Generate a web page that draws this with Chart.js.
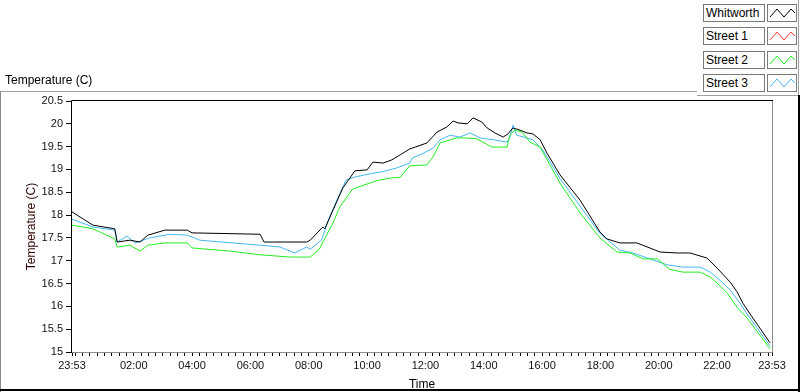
<!DOCTYPE html>
<html>
<head>
<meta charset="utf-8">
<script src="https://cdn.jsdelivr.net/npm/chart.js@4"></script>
<style>
body { margin:0; background:#fff; font-family:"Liberation Sans", Arial, sans-serif; }
#wrap { position:relative; width:800px; height:392px; overflow:hidden; }
#c { position:absolute; left:0; top:0; }
.ln { position:absolute; }
.cap { position:absolute; font-size:12px; color:#000; }
.lg-name { position:absolute; left:703px; width:58px; height:16px; border:1px solid #7a7a7a; background:#fff;
           font-size:12px; line-height:16px; padding-left:2px; box-sizing:content-box; }
.lg-sw { position:absolute; left:767px; width:28px; height:16px; border:1px solid #7a7a7a; background:#fff; }
</style>
</head>
<body>
<div id="wrap">
<canvas id="c" width="800" height="392"></canvas>
<div class="cap" style="left:5px;top:73px;">Temperature (C)</div>
<div class="ln" style="left:0;top:91px;width:697px;height:1px;background:#a0a0a0"></div>
<div class="ln" style="left:0;top:91px;width:1px;height:301px;background:#8a8a8a"></div>
<div class="ln" style="left:697px;top:95px;width:102px;height:1px;background:#a0a0a0"></div>
<div class="ln" style="left:798px;top:0;width:1px;height:95px;background:#a0a0a0"></div>
<div class="ln" style="left:798px;top:95px;width:2px;height:297px;background:#000"></div>
<div class="ln" style="left:0;top:389px;width:800px;height:2px;background:#000"></div>
<div id="legend"></div>
</div>
<script>
// minutes after 23:53 (0 .. 1440) and temperature in C
var whitworthTime = [0,43,88,93,119,140,156,191,237,247,387,395,483,490,516,520,537,557,582,607,619,640,658,675,695,706,730,751,771,784,794,813,825,843,854,870,887,897,907,922,936,948,963,977,1004,1045,1086,1100,1127,1162,1210,1245,1271,1306,1327,1354,1368,1380,1399,1436];
var whitworthTemp = [18.07,17.78,17.70,17.41,17.45,17.41,17.56,17.67,17.67,17.61,17.58,17.41,17.41,17.45,17.74,17.70,18.11,18.59,18.97,18.99,19.16,19.14,19.21,19.32,19.45,19.49,19.58,19.82,19.93,20.06,20.02,20.00,20.13,20.04,19.91,19.80,19.71,19.78,19.91,19.86,19.80,19.78,19.65,19.36,18.88,18.33,17.63,17.48,17.39,17.39,17.19,17.17,17.17,17.06,16.84,16.53,16.32,16.07,15.77,15.20];

var street1Time = [];
var street1Temp = [];

var street2Time = [0,43,88,93,119,140,156,191,237,247,326,387,449,483,490,508,537,551,577,601,626,654,675,695,730,743,757,778,792,813,833,864,895,901,911,926,942,963,983,1004,1045,1086,1121,1148,1175,1204,1230,1257,1292,1313,1327,1348,1368,1389,1436];
var street2Temp = [17.78,17.70,17.48,17.30,17.34,17.21,17.34,17.39,17.39,17.28,17.21,17.13,17.08,17.08,17.08,17.24,17.83,18.18,18.57,18.66,18.75,18.81,18.83,19.08,19.10,19.28,19.58,19.65,19.69,19.69,19.67,19.49,19.49,19.76,19.86,19.82,19.60,19.49,19.10,18.70,18.05,17.50,17.19,17.17,17.04,17.04,16.81,16.75,16.75,16.64,16.51,16.29,15.98,15.74,15.07];

var street3Time = [0,43,88,93,113,130,160,201,237,263,387,428,458,483,490,513,530,545,564,584,611,638,667,695,700,724,743,757,778,798,819,840,867,895,901,907,915,936,948,969,1004,1045,1086,1127,1154,1189,1224,1257,1292,1313,1333,1354,1374,1391,1436];
var street3Temp = [17.91,17.74,17.67,17.41,17.54,17.39,17.50,17.58,17.56,17.45,17.34,17.30,17.17,17.30,17.25,17.45,17.96,18.33,18.77,18.84,18.90,18.95,19.03,19.14,19.25,19.36,19.47,19.65,19.75,19.71,19.80,19.69,19.65,19.60,19.71,19.97,19.75,19.69,19.65,19.42,18.80,18.20,17.60,17.23,17.17,17.04,16.91,16.86,16.86,16.75,16.57,16.36,16.07,15.80,15.13];

var seriesNames = ['Whitworth','Street 1','Street 2','Street 3'];
var seriesColors = ['#000000','#ff3c3c','#20ee20','#44b8f4'];

// time axis: 23:53 at both ends, minor marks every 15 min, labels every 2 h
var xTicks = [0];
for (var t = 7; t < 1440; t += 15) xTicks.push(t);
xTicks.push(1440);

function xLabel(v) {
	if (v === 0 || v === 1440) return '23:53';
	var m = v - 7;
	if (m >= 120 && m % 120 === 0) {
		var h = (m / 60) % 24;
		return (h < 10 ? '0' : '') + h + ':00';
	}
	return '';
}

function pts(tx, ty) {
	var out = [];
	for (var i = 0; i < tx.length; i++) out.push({x: tx[i], y: ty[i]});
	return out;
}

var allTimes = [whitworthTime, street1Time, street2Time, street3Time];
var allTemps = [whitworthTemp, street1Temp, street2Temp, street3Temp];
var datasets = [];
for (var s = 0; s < seriesNames.length; s++) {
	datasets.push({
		label: seriesNames[s],
		data: pts(allTimes[s], allTemps[s]),
		borderColor: seriesColors[s],
		borderWidth: 1,
		pointRadius: 0,
		tension: 0,
		fill: false
	});
}

// legend panel
var lg = document.getElementById('legend');
for (var i = 0; i < seriesNames.length; i++) {
	var rowTop = 4 + Math.round(i * 23.3);
	var n = document.createElement('div');
	n.className = 'lg-name';
	n.style.top = rowTop + 'px';
	n.textContent = seriesNames[i];
	lg.appendChild(n);
	var sw = document.createElement('div');
	sw.className = 'lg-sw';
	sw.style.top = rowTop + 'px';
	sw.innerHTML = '<svg width="28" height="16"><polyline points="2,12 9,4 16,12 23,4 27,8" fill="none" stroke="' + seriesColors[i] + '" stroke-width="1"/></svg>';
	lg.appendChild(sw);
}

var framePlugin = {
	id: 'frame',
	afterDatasetsDraw: function(chart) {
		var a = chart.chartArea, ctx = chart.ctx;
		ctx.save();
		ctx.lineWidth = 1;
		ctx.strokeStyle = '#8c8c8c';
		ctx.beginPath();
		ctx.moveTo(a.right + 0.5, a.top);
		ctx.lineTo(a.right + 0.5, a.bottom + 0.5);
		ctx.lineTo(a.left, a.bottom + 0.5);
		ctx.stroke();
		ctx.strokeStyle = '#000';
		ctx.beginPath();
		ctx.moveTo(a.left - 0.5, a.bottom + 1);
		ctx.lineTo(a.left - 0.5, a.top - 0.5);
		ctx.lineTo(a.right + 1, a.top - 0.5);
		ctx.stroke();
		ctx.restore();
	}
};

var ctx = document.getElementById('c').getContext('2d');
var chart = new Chart(ctx, {
	type: 'line',
	data: { datasets: datasets },
	options: {
		responsive: false,
		animation: false,
		layout: { padding: { left: 0, top: 101, right: 28, bottom: 0 } },
		plugins: { legend: { display: false }, tooltip: { enabled: false } },
		scales: {
			x: {
				type: 'linear',
				min: 0, max: 1440,
				afterBuildTicks: function(scale) {
					scale.ticks = xTicks.map(function(v) { return {value: v}; });
				},
				afterFit: function(scale) { scale.height = 40; },
				grid: { drawOnChartArea: false, tickLength: 4, color: '#000' },
				border: { display: false },
				ticks: {
					autoSkip: false, maxRotation: 0, padding: 3,
					color: '#111',
					font: { family: 'Liberation Sans', size: 11 },
					callback: function(v) { return xLabel(v); }
				},
				title: {
					display: true, text: 'Time', color: '#000',
					font: { family: 'Liberation Sans', size: 12 },
					padding: { top: 0, bottom: 0 }
				}
			},
			y: {
				min: 15, max: 20.5,
				afterFit: function(scale) { scale.width = 72; },
				grid: { drawOnChartArea: false, tickLength: 6, color: '#000' },
				border: { display: false },
				ticks: {
					stepSize: 0.5, padding: 3, color: '#111',
					font: { family: 'Liberation Sans', size: 11 },
					callback: function(v) { return String(v); }
				},
				title: {
					display: true, text: 'Temperature (C)', color: '#300000',
					font: { family: 'Liberation Sans', size: 12 },
					padding: { top: 24, bottom: 0 }
				}
			}
		}
	},
	plugins: [framePlugin]
});
</script>
</body>
</html>
